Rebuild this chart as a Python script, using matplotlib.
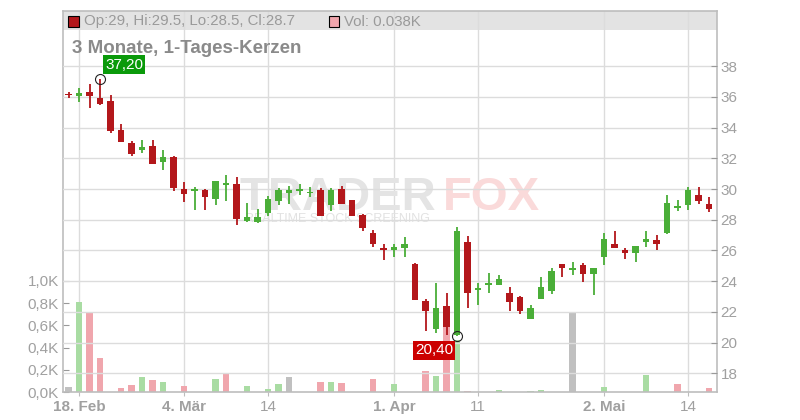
import matplotlib
matplotlib.use("Agg")
import matplotlib.pyplot as plt
from matplotlib.patches import Rectangle
import numpy as np

plt.rcParams['font.family'] = ['Liberation Sans', 'DejaVu Sans']

# ---------------- data (trading days 15 Feb .. 16 May) ----------------
opens = [36.15, 36.09, 36.30, 35.91, 35.72, 33.83, 32.98, 32.54, 32.78, 31.76,
         32.06, 29.98, 29.87, 29.93, 29.35, 30.28, 30.30, 27.89, 27.85, 28.43,
         29.21, 29.74, 29.89, 29.72, 29.91, 28.98, 29.98, 29.26, 28.28, 27.17,
         26.19, 26.04, 26.19, 25.10, 22.69, 20.91, 22.41, 20.52, 26.58, 23.43,
         23.76, 23.74, 23.26, 23.00, 21.52, 22.82, 23.34, 25.11, 24.71, 25.08,
         24.45, 25.57, 26.45, 26.06, 25.82, 26.54, 26.70, 27.13, 28.76, 28.96,
         29.59, 29.00]
highs = [36.33, 36.61, 36.83, 37.20, 36.11, 34.22, 33.13, 33.17, 33.17, 32.52,
         32.17, 30.48, 30.13, 30.00, 30.50, 30.89, 30.78, 29.06, 28.67, 29.52,
         30.09, 30.18, 30.30, 30.13, 30.09, 30.09, 30.17, 29.26, 28.39, 27.35,
         26.43, 26.43, 26.89, 25.21, 22.87, 23.91, 23.26, 27.52, 26.93, 23.91,
         24.52, 24.37, 23.65, 23.06, 22.48, 24.30, 24.87, 25.11, 25.28, 25.17,
         24.89, 27.13, 27.30, 26.19, 26.26, 27.30, 26.98, 29.59, 29.26, 30.11,
         30.11, 29.50]
lows = [35.96, 35.67, 35.28, 35.48, 33.65, 33.06, 32.15, 32.35, 31.63, 31.22,
        29.87, 29.15, 28.61, 28.61, 28.96, 29.21, 27.65, 27.85, 27.82, 28.26,
        28.98, 29.03, 29.61, 29.47, 28.24, 28.56, 29.04, 28.24, 27.24, 26.21,
        25.41, 25.56, 25.56, 22.80, 20.74, 20.61, 20.52, 20.40, 22.24, 22.43,
        23.21, 23.74, 22.04, 21.84, 21.52, 22.82, 23.15, 24.26, 24.43, 23.93,
        23.13, 25.04, 26.19, 25.43, 25.24, 26.21, 26.00, 27.09, 28.56, 28.63,
        29.02, 28.50]
closes = [36.10, 36.28, 36.06, 35.54, 33.76, 33.06, 32.28, 32.72, 31.63, 32.06,
          30.06, 29.67, 29.91, 29.47, 30.50, 30.36, 28.04, 28.21, 28.21, 29.37,
          29.91, 29.91, 29.93, 29.76, 28.24, 29.91, 29.04, 28.24, 27.45, 26.43,
          26.02, 26.24, 26.45, 22.80, 22.04, 22.28, 21.04, 27.30, 23.21, 23.47,
          23.91, 24.11, 22.65, 22.06, 22.26, 23.65, 24.67, 24.84, 24.89, 24.45,
          24.89, 26.72, 26.19, 25.82, 26.26, 26.72, 26.41, 29.06, 28.84, 29.91,
          29.21, 28.70]
volumes = [45, 811, 721, 306, 0, 36, 63, 135, 108, 90,
           0, 54, 0, 0, 117, 162, 0, 54, 0, 27,
           72, 135, 0, 0, 90, 90, 81, 0, 0, 117,
           0, 72, 0, 0, 189, 144, 589, 470, 9, 0,
           0, 18, 0, 0, 9, 18, 0, 0, 721, 0,
           0, 45, 0, 0, 0, 153, 0, 0, 72, 0,
           0, 38]
# volume colour: g = up, r = down, n = unchanged
vol_dir = ['n', 'g', 'r', 'r', 'r', 'r', 'r', 'g', 'r', 'g',
           'r', 'r', 'g', 'r', 'g', 'r', 'r', 'g', 'n', 'g',
           'g', 'n', 'g', 'r', 'r', 'g', 'r', 'r', 'r', 'r',
           'r', 'g', 'g', 'r', 'r', 'g', 'r', 'g', 'r', 'g',
           'g', 'g', 'r', 'r', 'g', 'g', 'g', 'g', 'n', 'r',
           'g', 'g', 'r', 'r', 'g', 'g', 'r', 'g', 'r', 'g',
           'r', 'r']

xtick_pos = [1, 11, 19, 31, 39, 51, 59]
xtick_labels = ["18. Feb", "4. Mär", "14", "1. Apr", "11", "2. Mai", "14"]
xtick_bold = [True, True, False, True, False, True, False]
price_ticks = [18, 20, 22, 24, 26, 28, 30, 32, 34, 36, 38]
vol_ticks = [0, 200, 400, 600, 800, 1000]
vol_tick_labels = ["0,0K", "0,2K", "0,4K", "0,6K", "0,8K", "1,0K"]
title = "3 Monate, 1-Tages-Kerzen"
header_ohlc = "Op:29, Hi:29.5, Lo:28.5, Cl:28.7"
header_vol = "Vol: 0.038K"

# ---------------- styling ----------------
RED = '#B3171B'
GREEN = '#4AAE38'
VCOL = {'g': '#A9DCA3', 'r': '#F0A6AD', 'n': '#C0C0C0'}
GRID = '#DCDCDC'
TXT = '#A0A0A0'
SPINE = '#BDBDBD'

W, H = 800, 420
fig = plt.figure(figsize=(8, 4.2), dpi=100)
L, R, T, B = 63, 716.5, 11, 392
axv = fig.add_axes([L / W, 1 - B / H, (R - L) / W, (B - T) / H])
ax = axv.twinx()

n = len(opens)
x = np.arange(n)
o = np.array(opens); h = np.array(highs); lo = np.array(lows); c = np.array(closes)
up = c >= o
cols = np.where(up, GREEN, RED)

# header band
axv.add_patch(Rectangle((0, (B - 30) / (B - T)), 1, 1 - (B - 30) / (B - T),
                        transform=axv.transAxes, facecolor='#E3E3E3',
                        edgecolor='none', zorder=0.2))

# volume bars
axv.bar(x, volumes, width=0.64, color=[VCOL[d] for d in vol_dir], zorder=2)
axv.set_ylim(0, (B - T) / 111 * 1000)
axv.set_yticks(vol_ticks)
axv.set_yticklabels(vol_tick_labels)
axv.set_axisbelow(True)
axv.grid(axis='x', color=GRID, lw=1)
axv.set_xlim(-0.524, 61.71)
axv.set_xticks(xtick_pos)
axv.set_xticklabels(xtick_labels)
for lab, b in zip(axv.get_xticklabels(), xtick_bold):
    lab.set_fontweight('bold' if b else 'normal')
axv.tick_params(axis='x', direction='out', length=3, color=SPINE,
                labelcolor=TXT, labelsize=11, pad=3)
axv.tick_params(axis='y', direction='in', length=4, color='#999999',
                labelcolor=TXT, labelsize=11, pad=3)
for s in axv.spines.values():
    s.set_color(SPINE); s.set_linewidth(1.2)

# candles
ax.vlines(x, lo, h, colors=cols, lw=1.3, zorder=3)
body_lo = np.minimum(o, c)
body_h = np.maximum(np.abs(c - o), 0.12)
ax.bar(x, body_h, bottom=body_lo, width=0.64, color=cols, zorder=4)
ax.set_ylim(16.78, 41.60)
ax.set_yticks(price_ticks)
ax.grid(axis='y', color=GRID, lw=1, zorder=0.5)
ax.tick_params(axis='y', direction='in', length=4, color='#999999',
               labelcolor=TXT, labelsize=11, pad=3)
for s in ax.spines.values():
    s.set_visible(False)

# extreme markers
imax = int(np.argmax(h)); imin = int(np.argmin(lo))
ax.plot([imax], [h[imax]], 'o', ms=7.2, mfc='none', mec='#222222', mew=0.8, zorder=6)
ax.plot([imin], [lo[imin]], 'o', ms=7.2, mfc='none', mec='#222222', mew=0.8, zorder=6)
ax.annotate(f"{h[imax]:.2f}".replace('.', ','), (imax, h[imax]),
            xytext=(5, 7), textcoords='offset pixels', ha='left', va='bottom',
            color='white', fontsize=11, zorder=7,
            bbox=dict(boxstyle='square,pad=0.15', fc='#0A9A0A', ec='none'))
ax.annotate(f"{lo[imin]:.2f}".replace('.', ','), (imin, lo[imin]),
            xytext=(-4, -7), textcoords='offset pixels', ha='right', va='top',
            color='white', fontsize=11, zorder=7,
            bbox=dict(boxstyle='square,pad=0.15', fc='#CC0000', ec='none'))

# watermark
ax.text(240 / W, 1 - 210 / H, "TRADER", transform=fig.transFigure, fontsize=34,
        fontweight='bold', color='#E4E4E4', ha='left', va='baseline', zorder=1)
ax.text(443 / W, 1 - 210 / H, "FOX", transform=fig.transFigure, fontsize=34,
        fontweight='bold', color='#FADADA', ha='left', va='baseline', zorder=1)
ax.text(245 / W, 1 - 219 / H, "REALTIME STOCK SCREENING", transform=fig.transFigure,
        fontsize=9, color='#E2E2E2', ha='left', va='center', zorder=1)

# header
fig.patches.append(Rectangle((68 / W, 1 - 26.5 / H), 10.5 / W, 10 / H,
                             transform=fig.transFigure, fc=RED, ec='black', lw=0.8))
fig.text(84 / W, 1 - 21.5 / H, header_ohlc, fontsize=10.8, color='#9A9A9A',
         ha='left', va='center')
fig.patches.append(Rectangle((328.5 / W, 1 - 26.5 / H), 10.5 / W, 10 / H,
                             transform=fig.transFigure, fc='#F0A6AD', ec='black', lw=0.8))
fig.text(344 / W, 1 - 21.5 / H, header_vol, fontsize=10.8, color='#9A9A9A',
         ha='left', va='center')
fig.text(72.5 / W, 1 - 53 / H, title, fontsize=13.5, fontweight='bold',
         color='#8A8A8A', ha='left', va='baseline')

fig.savefig('out.png', dpi=100)
